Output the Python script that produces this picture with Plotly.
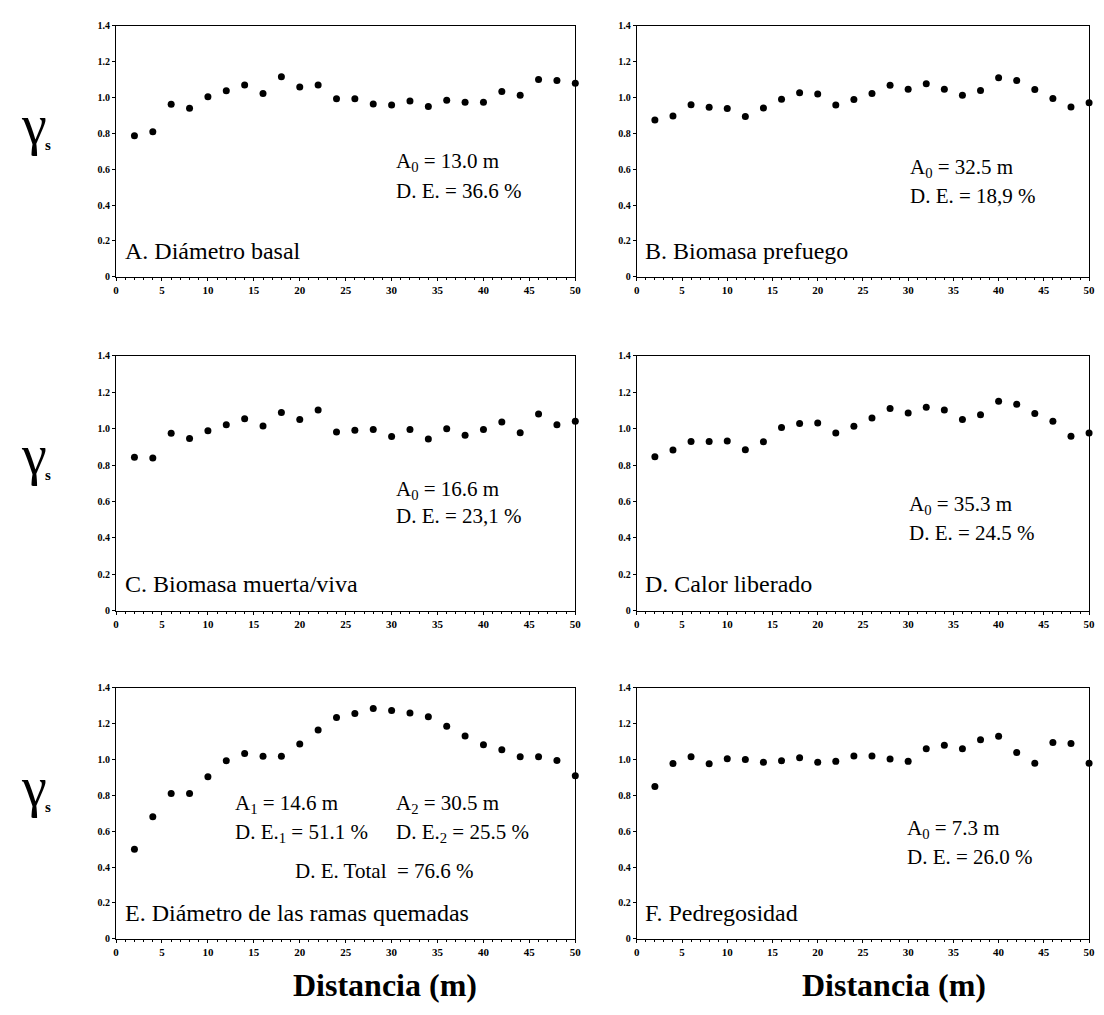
import plotly.graph_objects as go
from plotly.subplots import make_subplots

distancia = [2, 4, 6, 8, 10, 12, 14, 16, 18, 20, 22, 24, 26, 28, 30, 32, 34, 36, 38, 40, 42, 44, 46, 48, 50]

diametro_basal = [0.787, 0.809, 0.962, 0.940, 1.004, 1.038, 1.069, 1.022, 1.115, 1.058, 1.069, 0.993, 0.993,
                  0.964, 0.958, 0.980, 0.949, 0.985, 0.973, 0.973, 1.033, 1.013, 1.100, 1.095, 1.080]
biomasa_prefuego = [0.875, 0.897, 0.959, 0.945, 0.939, 0.894, 0.941, 0.990, 1.026, 1.020, 0.958, 0.989, 1.022,
                    1.068, 1.046, 1.077, 1.046, 1.013, 1.039, 1.110, 1.095, 1.044, 0.994, 0.947, 0.970]
biomasa_muerta_viva = [0.843, 0.839, 0.975, 0.946, 0.988, 1.021, 1.054, 1.014, 1.089, 1.050, 1.102, 0.982, 0.991,
                       0.996, 0.957, 0.996, 0.943, 1.000, 0.964, 0.995, 1.036, 0.977, 1.080, 1.021, 1.040]
calor_liberado = [0.846, 0.883, 0.930, 0.930, 0.932, 0.884, 0.928, 1.006, 1.028, 1.031, 0.976, 1.013, 1.059,
                  1.110, 1.086, 1.117, 1.103, 1.050, 1.077, 1.150, 1.134, 1.083, 1.040, 0.958, 0.976]
diametro_ramas = [0.500, 0.681, 0.811, 0.811, 0.904, 0.993, 1.034, 1.018, 1.018, 1.087, 1.165, 1.234, 1.257,
                  1.285, 1.273, 1.260, 1.239, 1.186, 1.131, 1.083, 1.055, 1.016, 1.016, 0.995, 0.910]
pedregosidad = [0.850, 0.978, 1.015, 0.977, 1.005, 1.000, 0.985, 0.993, 1.010, 0.985, 0.990, 1.020, 1.020,
                1.003, 0.990, 1.060, 1.080, 1.060, 1.110, 1.130, 1.040, 0.980, 1.095, 1.090, 0.980]

x_ticks = [0, 5, 10, 15, 20, 25, 30, 35, 40, 45, 50]
y_ticks = [0, 0.2, 0.4, 0.6, 0.8, 1.0, 1.2, 1.4]
y_ticktext = ["0", "0.2", "0.4", "0.6", "0.8", "1.0", "1.2", "1.4"]

series = [diametro_basal, biomasa_prefuego, biomasa_muerta_viva, calor_liberado, diametro_ramas, pedregosidad]
panel_labels = ["A. Diámetro basal", "B. Biomasa prefuego", "C. Biomasa muerta/viva",
                "D. Calor liberado", "E. Diámetro de las ramas quemadas", "F. Pedregosidad"]

SERIF = "Liberation Serif, Times New Roman, serif"
W, H = 1104, 1015

fig = make_subplots(rows=3, cols=2)

col_px = [(114, 577), (639, 1095)]
row_px = [(20, 274), (354, 612), (690, 944)]

for i, ys in enumerate(series):
    r, c = i // 2 + 1, i % 2 + 1
    fig.add_trace(go.Scatter(x=distancia, y=ys, mode="markers",
                             marker=dict(color="black", size=7),
                             cliponaxis=False, showlegend=False), row=r, col=c)
    idx = "" if i == 0 else str(i + 1)
    x0, x1 = col_px[c - 1]
    t, b = row_px[r - 1]
    fig.layout["xaxis" + idx].update(
        domain=[x0 / W, x1 / W], range=[0, 50], tickvals=x_ticks,
        showline=True, mirror=True, linecolor="black", linewidth=1.3,
        ticks="outside", ticklen=3, tickcolor="black", showgrid=False, zeroline=False,
        tickfont=dict(family=SERIF, size=11, color="black", weight="bold"),
        minor=dict(ticks="outside", ticklen=2, dtick=1, tickcolor="black"))
    fig.layout["yaxis" + idx].update(
        domain=[1 - b / H, 1 - t / H], range=[0, 1.4], tickvals=y_ticks, ticktext=y_ticktext,
        showline=True, mirror=True, linecolor="black", linewidth=1.3,
        ticks="outside", ticklen=3, tickcolor="black", showgrid=False, zeroline=False,
        tickfont=dict(family=SERIF, size=10, color="black", weight="bold"))
    # panel label
    fig.add_annotation(x=0.7, y=0.145, xref="x" + idx, yref="y" + idx, text=panel_labels[i],
                       showarrow=False, xanchor="left", yanchor="middle",
                       font=dict(family=SERIF, size=24, color="black"))

# statistics text
stat_font = dict(family=SERIF, size=21, color="black")
stats = [
    ("", 30.3, 0.639, "A<sub>0</sub> = 13.0 m"), ("", 30.3, 0.48, "D. E. = 36.6 %"),
    ("2", 30.0, 0.606, "A<sub>0</sub> = 32.5 m"), ("2", 30.0, 0.452, "D. E. = 18,9 %"),
    ("3", 30.3, 0.662, "A<sub>0</sub> = 16.6 m"), ("3", 30.3, 0.521, "D. E. = 23,1 %"),
    ("4", 29.9, 0.58, "A<sub>0</sub> = 35.3 m"), ("4", 29.9, 0.429, "D. E. = 24.5 %"),
    ("5", 12.7, 0.75, "A<sub>1</sub> = 14.6 m"), ("5", 30.3, 0.75, "A<sub>2</sub> = 30.5 m"),
    ("5", 12.7, 0.591, "D. E.<sub>1</sub> = 51.1 %"), ("5", 30.3, 0.591, "D. E.<sub>2</sub> = 25.5 %"),
    ("5", 19.3, 0.38, "D. E. Total  = 76.6 %"),
    ("6", 29.7, 0.613, "A<sub>0</sub> = 7.3 m"), ("6", 29.7, 0.459, "D. E. = 26.0 %"),
]
for idx, xv, yv, txt in stats:
    fig.add_annotation(x=xv, y=yv, xref="x" + idx, yref="y" + idx, text=txt, showarrow=False,
                       xanchor="left", yanchor="middle", font=stat_font)

# gamma_s y-axis labels
for (t, b) in row_px:
    yc = 1 - (t + 100) / H
    fig.add_annotation(x=31 / W, y=yc, xref="paper", yref="paper", text="γ", showarrow=False,
                       xanchor="center", yanchor="middle",
                       font=dict(family=SERIF, size=56, color="black"))
    fig.add_annotation(x=45 / W, y=1 - (t + 121) / H, xref="paper", yref="paper", text="s",
                       showarrow=False, xanchor="center", yanchor="middle",
                       font=dict(family=SERIF, size=15, color="black", weight="bold"))

# x-axis titles
for xc in (385, 898):
    fig.add_annotation(x=xc / W, y=1 - 991 / H, xref="paper", yref="paper", text="Distancia (m)",
                       showarrow=False, xanchor="center", yanchor="middle",
                       font=dict(family=SERIF, size=32, color="black", weight="bold"))

fig.update_layout(width=W, height=H, margin=dict(l=0, r=0, t=0, b=0),
                  paper_bgcolor="white", plot_bgcolor="white", showlegend=False)

fig.write_html("out.html", config={"displayModeBar": False})

# remove default browser body margin so the figure fills the window exactly
with open("out.html", "r", encoding="utf-8") as f:
    html = f.read()
html = html.replace("<head>", "<head><style>html,body{margin:0;padding:0;overflow:hidden;}</style>", 1)
with open("out.html", "w", encoding="utf-8") as f:
    f.write(html)
